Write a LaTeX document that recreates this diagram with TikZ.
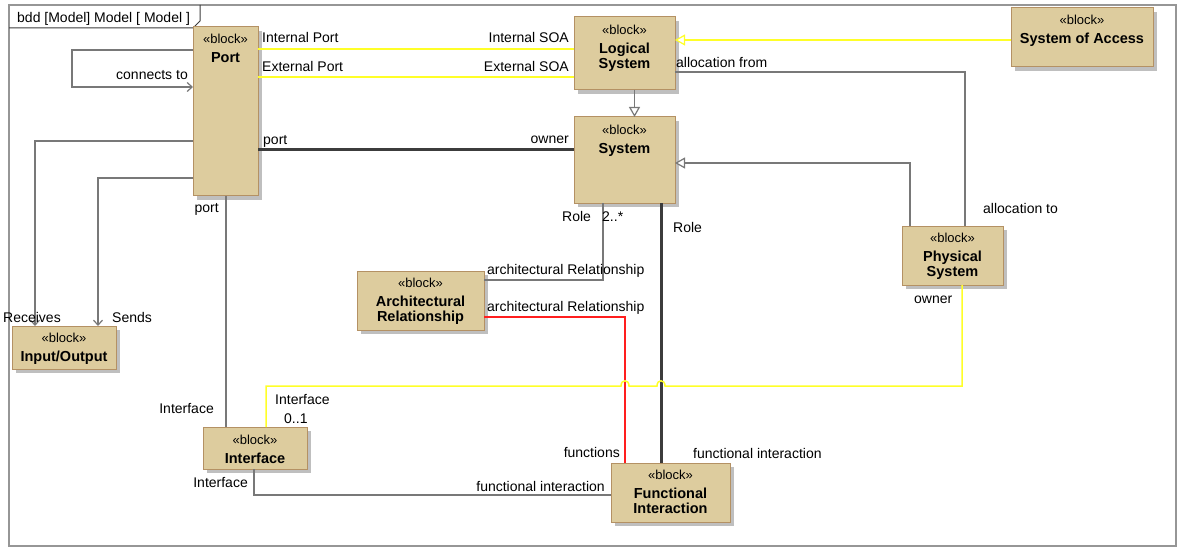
\documentclass[tikz,border=0pt]{standalone}
\usepackage{fontspec}
\setmainfont{Liberation Sans}
\usetikzlibrary{arrows.meta,calc,shadows}
\definecolor{blkfill}{RGB}{221,204,158}
\definecolor{blkdraw}{RGB}{180,145,100}
\definecolor{lngray}{RGB}{120,120,120}
\definecolor{lndark}{RGB}{60,60,60}
\definecolor{lnyel}{RGB}{255,255,40}
\definecolor{lnred}{RGB}{255,30,30}
\definecolor{framegray}{RGB}{150,150,150}
\begin{document}
\begin{tikzpicture}[x=1pt,y=-1pt,
  blk/.style={draw=blkdraw, fill=blkfill, line width=1pt, inner sep=0pt, outer sep=0pt, anchor=north west,
    drop shadow={shadow xshift=4pt, shadow yshift=-4pt, fill=black!25, opacity=1}},
  btext/.style={anchor=north, inner sep=0pt, align=center, font=\fontsize{14.5}{15}\selectfont\bfseries},
  lbl/.style={inner sep=0pt, font=\fontsize{14}{15}\selectfont},
  gline/.style={draw=lngray, line width=1.5pt},
  dline/.style={draw=lndark, line width=3pt},
  yline/.style={draw=lnyel, line width=1.5pt},
  rline/.style={draw=lnred, line width=1.5pt},
  barb/.style={-{Straight Barb[length=5pt,width=9pt,line width=1.2pt]}},
  gen/.style={-{Triangle[open,length=10pt,width=11pt,line width=1.2pt,fill=white]}}
]
\useasboundingbox (0,0) rectangle (1177,548);
% frame
\draw[framegray, line width=2pt] (9,5) rectangle (1176,546);
\draw[lndark, line width=1pt] (9,28) -- (193,28) -- (200,21) -- (200,5);
\node[lbl, anchor=base west] (title) at (17,23) {bdd [Model] Model [ Model ]};

% blocks
\node[blk, minimum width=65pt, minimum height=169pt] (port) at (193,27) {};
\node[blk, minimum width=101pt, minimum height=73pt] (logical) at (574,17) {};
\node[blk, minimum width=101pt, minimum height=86pt] (system) at (574,117) {};
\node[blk, minimum width=142pt, minimum height=59pt] (soa) at (1011,8) {};
\node[blk, minimum width=101pt, minimum height=59pt] (physical) at (902,226) {};
\node[blk, minimum width=127pt, minimum height=59pt] (archrel) at (357,271) {};
\node[blk, minimum width=104pt, minimum height=43pt] (io) at (12,326) {};
\node[blk, minimum width=104pt, minimum height=42pt] (interface) at (203,427) {};
\node[blk, minimum width=119pt, minimum height=59pt] (fi) at (611,463) {};

\node[btext] (portT) at ($(port.north)+(0,7)$) {{\mdseries\fontsize{13}{13}\selectfont «block»}\\[4pt]Port};
\node[btext] (logicalT) at ($(logical.north)+(0,8)$) {{\mdseries\fontsize{13}{13}\selectfont «block»}\\[4pt]Logical\\System};
\node[btext] (systemT) at ($(system.north)+(0,8)$) {{\mdseries\fontsize{13}{13}\selectfont «block»}\\[4pt]System};
\node[btext] (soaT) at ($(soa.north)+(0,7)$) {{\mdseries\fontsize{13}{13}\selectfont «block»}\\[4pt]System of Access};
\node[btext] (physicalT) at ($(physical.north)+(0,7)$) {{\mdseries\fontsize{13}{13}\selectfont «block»}\\[4pt]Physical\\System};
\node[btext] (archrelT) at ($(archrel.north)+(0,7)$) {{\mdseries\fontsize{13}{13}\selectfont «block»}\\[4pt]Architectural\\Relationship};
\node[btext] (ioT) at ($(io.north)+(0,7)$) {{\mdseries\fontsize{13}{13}\selectfont «block»}\\[4pt]Input/Output};
\node[btext] (interfaceT) at ($(interface.north)+(0,8)$) {{\mdseries\fontsize{13}{13}\selectfont «block»}\\[4pt]Interface};
\node[btext] (fiT) at ($(fi.north)+(0,7)$) {{\mdseries\fontsize{13}{13}\selectfont «block»}\\[4pt]Functional\\Interaction};

% connectors
\draw[gline, barb] ($(port.north west)+(0,23)$) -| (72,87) -- ($(port.north west)+(0,60)$);
\draw[yline] ($(port.north east)+(0,22)$) -- (logical.west |- {$(port.north east)+(0,22)$});
\draw[yline] ($(port.north east)+(0,50)$) -- (logical.west |- {$(port.north east)+(0,50)$});
\draw[yline, gen] ($(soa.north west)+(0,32)$) -- ($(logical.north east)+(0,23)$);
\draw[gline] ($(logical.north east)+(0,55)$) -| ($(physical.north west)+(63,0)$);
\draw[gline, gen] ($(logical.south)+(10,0)$) -- ($(system.north)+(10,0)$);
\draw[gline, gen] ($(physical.north west)+(8,0)$) |- ($(system.north east)+(0,46)$);
\draw[dline] ($(port.north east)+(0,123)$) -- ($(system.north west)+(0,33)$);
\draw[gline, barb] ($(port.north west)+(0,114)$) -| ($(io.north west)+(23,0)$);
\draw[gline, barb] ($(port.north west)+(0,151)$) -| ($(io.north west)+(86,0)$);
\draw[gline] ($(port.south west)+(33,0)$) -- ($(interface.north west)+(23,0)$);
\draw[gline] ($(system.south west)+(29,0)$) |- ($(archrel.north east)+(0,9)$);
\draw[rline] ($(archrel.north east)+(0,46)$) -| ($(fi.north west)+(14,0)$);
\draw[dline] ($(system.south west)+(87,0)$) -- ($(fi.north west)+(50,0)$);
\draw[yline] ($(physical.south west)+(60,0)$) |- (665,386)
  .. controls (665,379) and (657,379) .. (657,386) -- (629,386)
  .. controls (629,379) and (621,379) .. (621,386) -| ($(interface.north west)+(63,0)$);
\draw[gline] ($(interface.south west)+(51,0)$) |- ($(fi.north west)+(0,32)$);

% labels
\node[lbl, anchor=base east] (l1) at (188,80) {connects to};
\node[lbl, anchor=base west] (l2) at (262,43) {Internal Port};
\node[lbl, anchor=base west] (l3) at (262,72) {External Port};
\node[lbl, anchor=base east] (l4) at (569,43) {Internal SOA};
\node[lbl, anchor=base east] (l5) at (569,72) {External SOA};
\node[lbl, anchor=base west] (l6) at (676,68) {allocation from};
\node[lbl, anchor=base west] (l7) at (263,145) {port};
\node[lbl, anchor=base east] (l8) at (569,144) {owner};
\node[lbl, anchor=base west] (l9) at (3,322) {Receives};
\node[lbl, anchor=base west] (l10) at (112,322) {Sends};
\node[lbl, anchor=base east] (l11) at (219,212) {port};
\node[lbl, anchor=base east] (l12) at (214,413) {Interface};
\node[lbl, anchor=base west] (l13) at (275,404) {Interface};
\node[lbl, anchor=base west] (l14) at (284,423) {0..1};
\node[lbl, anchor=base east] (l15) at (248,487) {Interface};
\node[lbl, anchor=base east] (l16) at (605,491) {functional interaction};
\node[lbl, anchor=base east] (l17) at (620,457) {functions};
\node[lbl, anchor=base west] (l18) at (693,458) {functional interaction};
\node[lbl, anchor=base west] (l19) at (562,222) {Role};
\node[lbl, anchor=base west] (l20) at (602,222) {2..*};
\node[lbl, anchor=base west] (l21) at (673,232) {Role};
\node[lbl, anchor=base west] (l22) at (487,274) {architectural Relationship};
\node[lbl, anchor=base west] (l23) at (487,311) {architectural Relationship};
\node[lbl, anchor=base west] (l24) at (983,213) {allocation to};
\node[lbl, anchor=base west] (l25) at (914,303) {owner};
\end{tikzpicture}
\end{document}
